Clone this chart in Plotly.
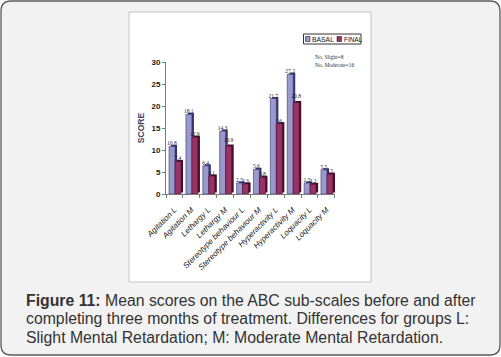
import plotly.graph_objects as go

categories = ["Agitation L", "Agitation M", "Lethargy L", "Lethargy M",
              "Stereotype behaviour L", "Stereotype behaviour M",
              "Hyperactivity L", "Hyperactivity M", "Loquacity L", "Loquacity M"]
basal = [10.8, 18.1, 6.4, 14.3, 2.5, 5.6, 21.7, 27.2, 2.5, 5.5]
final = [7.4, 12.9, 4.1, 10.9, 2.3, 3.8, 16, 20.8, 2.2, 4.5]
y_ticks = [0, 5, 10, 15, 20, 25, 30]
caption_lines = ["<b>Figure 11:</b> Mean scores on the ABC sub-scales before and after",
                 "completing three months of treatment. Differences for groups L:",
                 "Slight Mental Retardation; M: Moderate Mental Retardation."]

W, H = 501, 357
def px(x): return x / W
def py(y): return 1 - y / H

BASAL_C, BASAL_D = "#9999cc", "#35356e"
FINAL_C, FINAL_D = "#993366", "#4a0f2a"

fig = go.Figure()
depth_x = 0.12
depth_y = 0.35
bw = 0.355
for vals, off, col, dark, name in [(basal, -0.32, BASAL_C, BASAL_D, "BASAL"),
                                   (final, 0.035, FINAL_C, FINAL_D, "FINAL")]:
    fig.add_trace(go.Bar(x=categories, y=vals, base=depth_y, offset=off + depth_x, width=bw,
                         marker=dict(color=dark, line=dict(width=0)),
                         showlegend=False, hoverinfo="skip"))
    fig.add_trace(go.Bar(x=categories, y=vals, offset=off, width=bw, name=name,
                         marker=dict(color=col, line=dict(color=dark, width=0.6)),
                         text=[f"{v:g}" for v in vals], textposition="outside",
                         constraintext="none", cliponaxis=False,
                         textfont=dict(family="Liberation Serif", size=5.5, color="#1a1a40"),
                         showlegend=False))

r = 10
x0, x1, y0, y1 = 1, 500, 1, 355
path = (f"M {px(x0+r)},{py(y0)} L {px(x1-r)},{py(y0)} Q {px(x1)},{py(y0)} {px(x1)},{py(y0+r)} "
        f"L {px(x1)},{py(y1-r)} Q {px(x1)},{py(y1)} {px(x1-r)},{py(y1)} "
        f"L {px(x0+r)},{py(y1)} Q {px(x0)},{py(y1)} {px(x0)},{py(y1-r)} "
        f"L {px(x0)},{py(y0+r)} Q {px(x0)},{py(y0)} {px(x0+r)},{py(y0)} Z")

shapes = [
    dict(type="path", path=path, xref="paper", yref="paper", layer="below",
         fillcolor="#f2f2f2", line=dict(color="#5a5a5a", width=1.3)),
    dict(type="rect", xref="paper", yref="paper", layer="below",
         x0=px(129), x1=px(371), y0=py(282), y1=py(12),
         fillcolor="white", line=dict(color="#c4c4c4", width=1)),
    # legend box
    dict(type="rect", xref="paper", yref="paper",
         x0=px(303.5), x1=px(361), y0=py(44), y1=py(34),
         fillcolor="white", line=dict(color="#333333", width=1)),
    dict(type="rect", xref="paper", yref="paper",
         x0=px(305.5), x1=px(310), y0=py(41.5), y1=py(36.5),
         fillcolor=BASAL_C, line=dict(color="#222222", width=0.6)),
    dict(type="rect", xref="paper", yref="paper",
         x0=px(337), x1=px(341.5), y0=py(41.5), y1=py(36.5),
         fillcolor=FINAL_C, line=dict(color="#222222", width=0.6)),
]

annotations = [
    dict(text="BASAL", xref="paper", yref="paper", x=px(310), y=py(39),
         xanchor="left", yanchor="middle", showarrow=False,
         font=dict(family="Liberation Sans", size=6.8, color="#111111")),
    dict(text="FINAL", xref="paper", yref="paper", x=px(341.5), y=py(39),
         xanchor="left", yanchor="middle", showarrow=False,
         font=dict(family="Liberation Sans", size=6.4, color="#111111")),
    dict(text="No. Slight=8", xref="paper", yref="paper", x=px(313), y=py(57),
         xanchor="left", yanchor="middle", showarrow=False,
         font=dict(family="Liberation Serif", size=5.5, color="#333333")),
    dict(text="No. Moderate=16", xref="paper", yref="paper", x=px(313), y=py(65),
         xanchor="left", yanchor="middle", showarrow=False,
         font=dict(family="Liberation Serif", size=5.5, color="#333333")),
]
for i, line in enumerate(caption_lines):
    annotations.append(dict(text=line, xref="paper", yref="paper", x=px(24), y=py(300 + 18.6 * i),
                            xanchor="left", yanchor="middle", align="left", showarrow=False,
                            font=dict(family="Liberation Sans", size=15.8, color="#333333")))

fig.update_layout(
    width=W, height=H, margin=dict(l=0, r=0, t=0, b=0, pad=0, autoexpand=False),
    paper_bgcolor="white", plot_bgcolor="white",
    barmode="overlay", showlegend=False,
    shapes=shapes, annotations=annotations,
    xaxis=dict(domain=[px(166), px(335)], showline=True, linecolor="#7a7a7a", linewidth=1,
               automargin=False, ticklabelstandoff=7,
               ticks="outside", tickson="boundaries", ticklen=3, tickcolor="#7a7a7a",
               tickangle=-45, showgrid=False, zeroline=False,
               tickfont=dict(family="Liberation Sans", size=8, color="#1a1a1a", style="italic")),
    yaxis=dict(domain=[py(194), py(62)], range=[0, 30], tickvals=y_ticks,
               automargin=False,
               showline=True, linecolor="#7a7a7a", linewidth=1,
               ticks="outside", ticklen=3, tickcolor="#7a7a7a",
               showgrid=False, zeroline=False,
               tickfont=dict(family="Liberation Sans", size=8,
                             color="#1a1a1a", weight="bold"),
               title=dict(text="<b>SCORE</b>", standoff=5,
                          font=dict(family="Liberation Sans", size=8.5, color="#3b4a6b"))),
)

fig.write_html("out.html", config={"displayModeBar": False},
               post_script="document.body.style.margin='0';document.body.style.overflow='hidden';")
